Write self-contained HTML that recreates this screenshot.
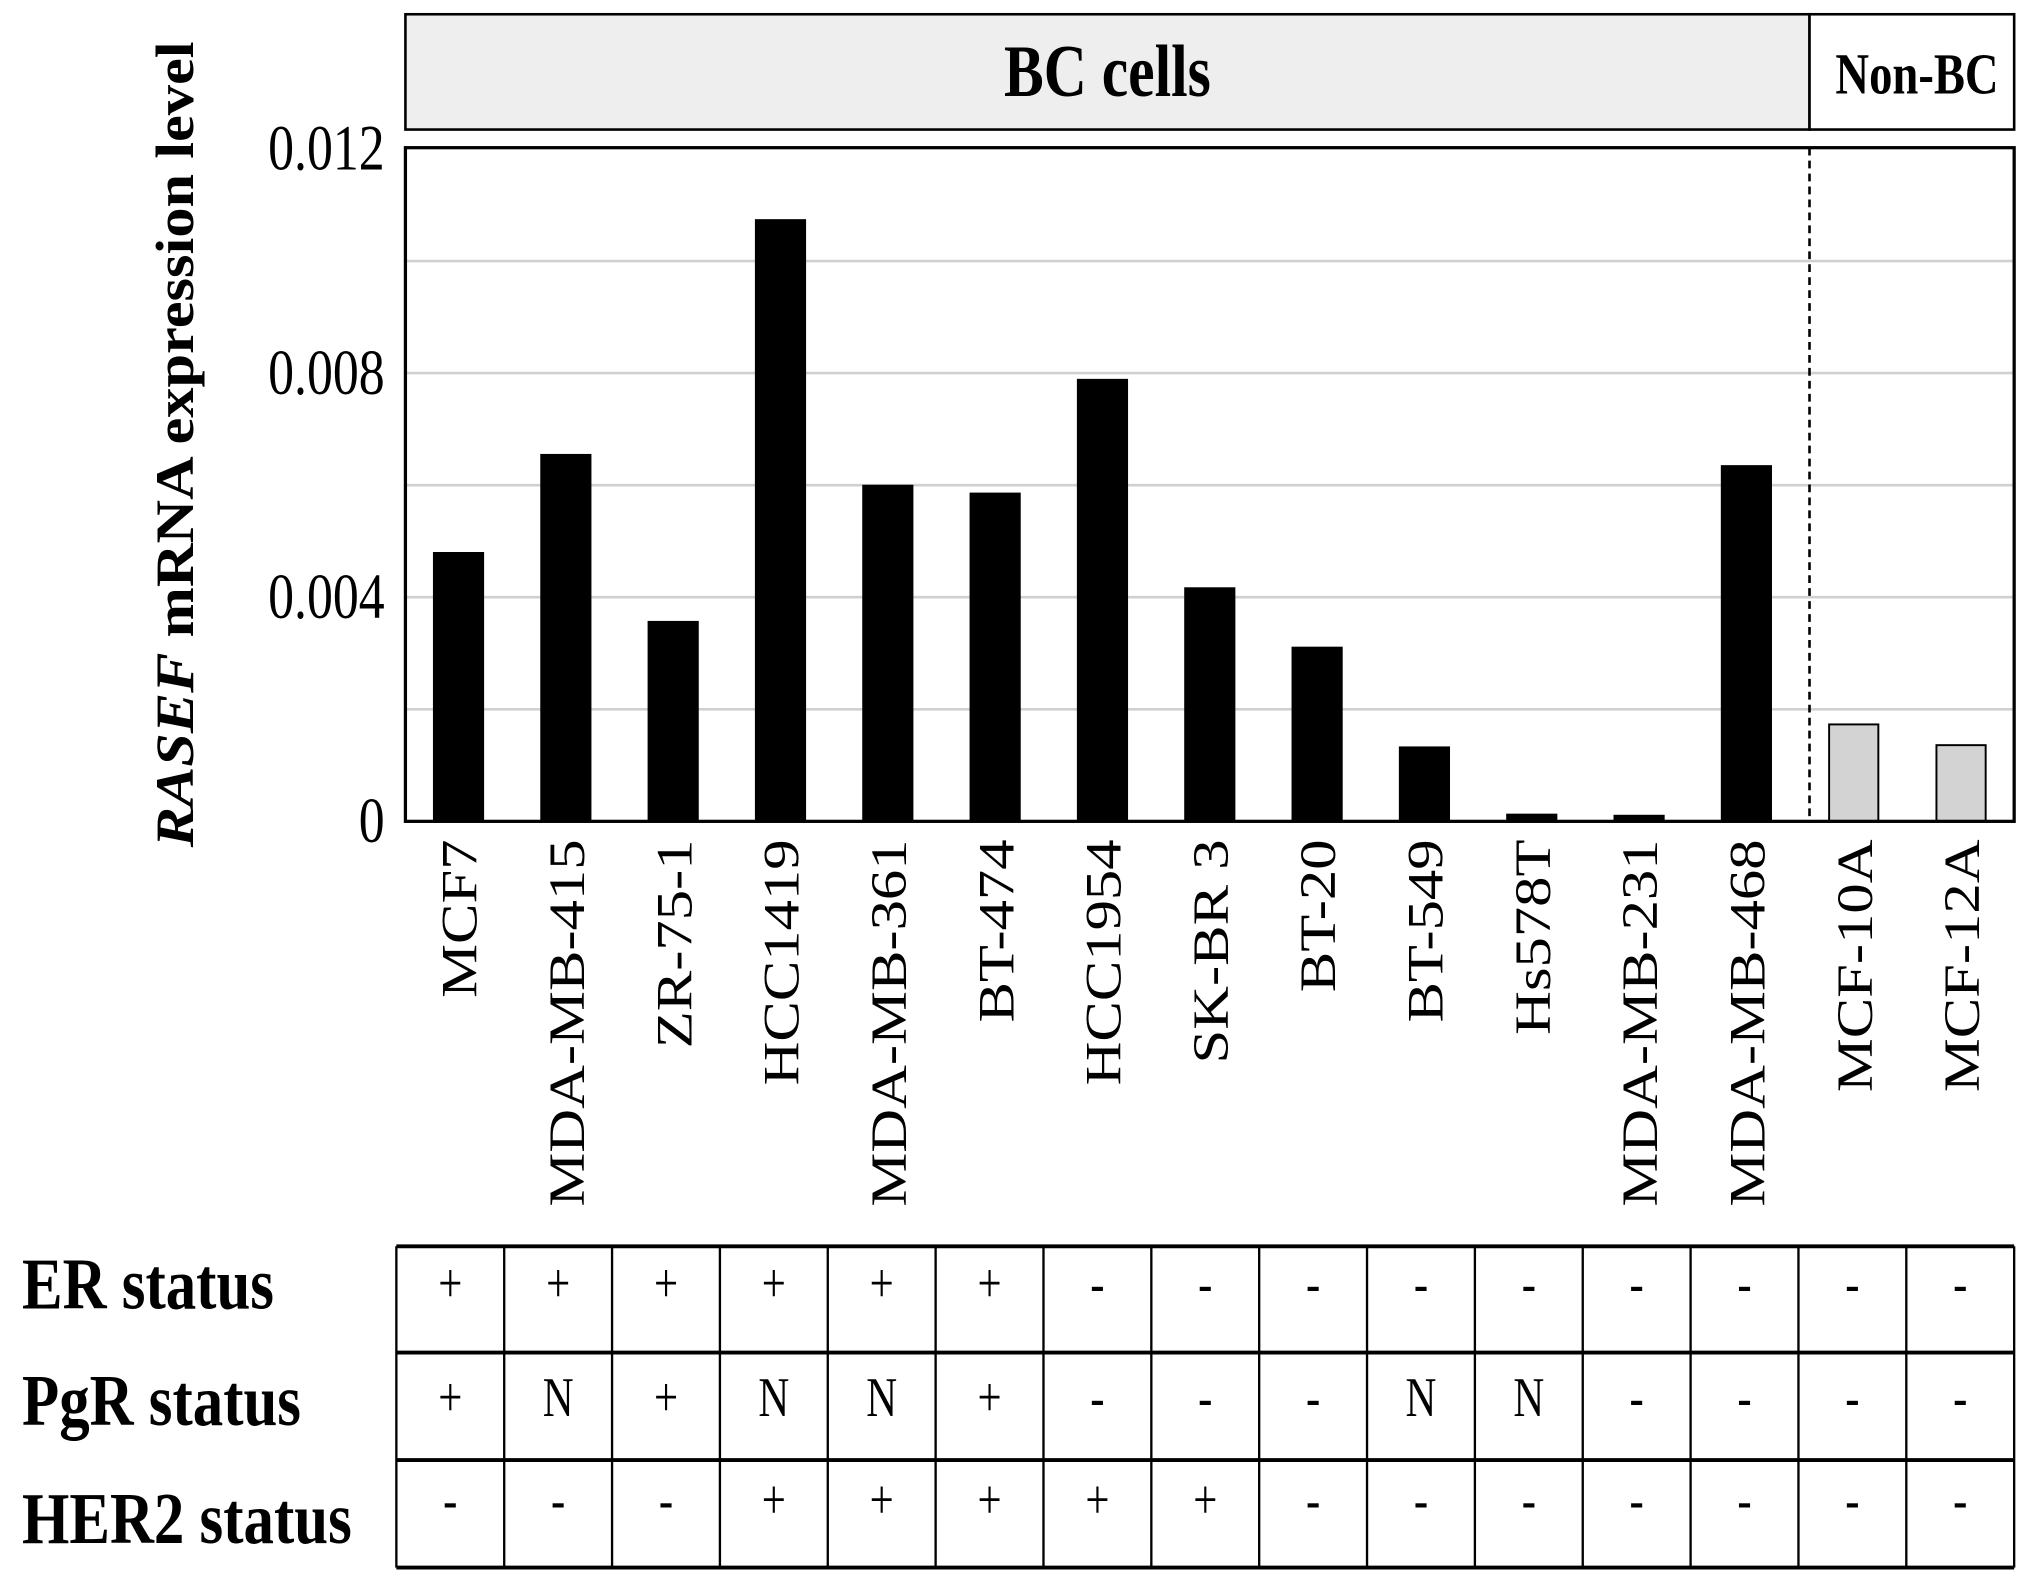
<!DOCTYPE html>
<html><head><meta charset="utf-8"><style>
html,body{margin:0;padding:0;background:#fff;}
svg{display:block;font-family:"Liberation Serif",serif;}
</style></head><body>
<svg id="chart" width="2031" height="1587" viewBox="0 0 1568 1225" preserveAspectRatio="none" xmlns="http://www.w3.org/2000/svg">
<g>
<rect x="313" y="11" width="1084" height="89" fill="#eeeeee" stroke="#000" stroke-width="2"/>
<rect x="1397" y="11" width="158" height="89" fill="#fff" stroke="#000" stroke-width="2"/>
<text transform="translate(855,74) scale(1,1.25)" text-anchor="middle" font-size="46" font-weight="bold">BC cells</text>
<text transform="translate(1480,72) scale(1,1.25)" text-anchor="middle" font-size="36" font-weight="bold">Non-BC</text>
</g>
<g id="grid"></g>
<g id="bars"></g>
<line x1="1397" y1="114" x2="1397" y2="634" stroke="#000" stroke-width="2" stroke-dasharray="6,4"/>
<rect x="313" y="114" width="1242" height="520" fill="none" stroke="#000" stroke-width="2.5"/>
<g id="yticks"></g>
<g id="xlabels"></g>
<text transform="translate(149,343) rotate(-90) scale(1.11,1)" text-anchor="middle" font-size="42" font-weight="bold"><tspan font-style="italic">RASEF</tspan> mRNA expression level</text>
<g id="table"></g>
</svg>
<script>
const categories = ["MCF7","MDA-MB-415","ZR-75-1","HCC1419","MDA-MB-361","BT-474","HCC1954","SK-BR 3","BT-20","BT-549","Hs578T","MDA-MB-231","MDA-MB-468","MCF-10A","MCF-12A"];
const values = [0.00479,0.00654,0.00356,0.01073,0.00599,0.00585,0.00788,0.00416,0.0031,0.00132,0.00012,0.0001,0.00634,0.00173,0.00136];
const groups = ["BC","BC","BC","BC","BC","BC","BC","BC","BC","BC","BC","BC","BC","Non","Non"];
const yTicks = [0,0.004,0.008,0.012];
const yTickLabels = ["0","0.004","0.008","0.012"];
const gridValues = [0.002,0.004,0.006,0.008,0.010];
const rowLabels = ["ER status","PgR status","HER2 status"];
const erStatus = ["+","+","+","+","+","+","-","-","-","-","-","-","-","-","-"];
const pgrStatus = ["+","N","+","N","N","+","-","-","-","N","N","-","-","-","-"];
const her2Status = ["-","-","-","+","+","+","+","+","-","-","-","-","-","-","-"];

const NS="http://www.w3.org/2000/svg";
const y0=634, yTop=115, vMax=0.012;
const yScale=v=>y0-(v/vMax)*(y0-yTop);
const step=(1514-354)/14;
const xCenter=i=>354+i*step;
function mk(tag,attrs,parent){const e=document.createElementNS(NS,tag);for(const k in attrs)e.setAttribute(k,attrs[k]);parent.appendChild(e);return e;}
const grid=document.getElementById('grid');
gridValues.forEach(v=>{const l=mk('line',{x1:313,x2:1555,y1:yScale(v),y2:yScale(v),stroke:'#d0d0d0','stroke-width':2},grid);

});
const bars=document.getElementById('bars');
values.forEach((v,i)=>{const r=mk('rect',{x:xCenter(i)-19,y:yScale(v),width:38,height:y0-yScale(v),fill:groups[i]==="BC"?'#000':'#d3d3d3',stroke:'#000','stroke-width':1.5},bars);

});
const yt=document.getElementById('yticks');
yTicks.forEach((v,i)=>{const t=mk('text',{transform:`translate(297,${yScale(v)+16}) scale(1,1.25)`,'text-anchor':'end','font-size':40},yt);t.textContent=yTickLabels[i];

});
const xl=document.getElementById('xlabels');
categories.forEach((c,i)=>{const t=mk('text',{transform:`translate(${xCenter(i)+14},648) rotate(-90) scale(1.2,1)`,'text-anchor':'end','font-size':39},xl);t.textContent=c;

});
const tb=document.getElementById('table');
const rows=[erStatus,pgrStatus,her2Status];
const tx0=306, tx1=1555, rowY=[962,1044,1127,1210];
const colW=(tx1-tx0)/15;
rowY.forEach(y=>{const l=mk('line',{x1:tx0,x2:tx1,y1:y,y2:y,stroke:'#000','stroke-width':3},tb);

});
for(let c=0;c<=15;c++){const l=mk('line',{x1:tx0+c*colW,x2:tx0+c*colW,y1:962,y2:1210,stroke:'#000','stroke-width':1.8},tb);

}
const symY=[1005,1093,1172];
const labY=[1010,1100,1191];
rows.forEach((row,r)=>{
 const lt=mk('text',{transform:`translate(17,${labY[r]}) scale(1,1.2)`,'font-size':47,'font-weight':'bold'},tb);lt.textContent=rowLabels[r];
 
 
 row.forEach((s,c)=>{const t=mk('text',{transform:`translate(${tx0+c*colW+colW/2},${symY[r]}) scale(1,1.3)`,'text-anchor':'middle','font-size':33},tb);t.textContent=s;
 
 });
});
</script>
</body></html>
